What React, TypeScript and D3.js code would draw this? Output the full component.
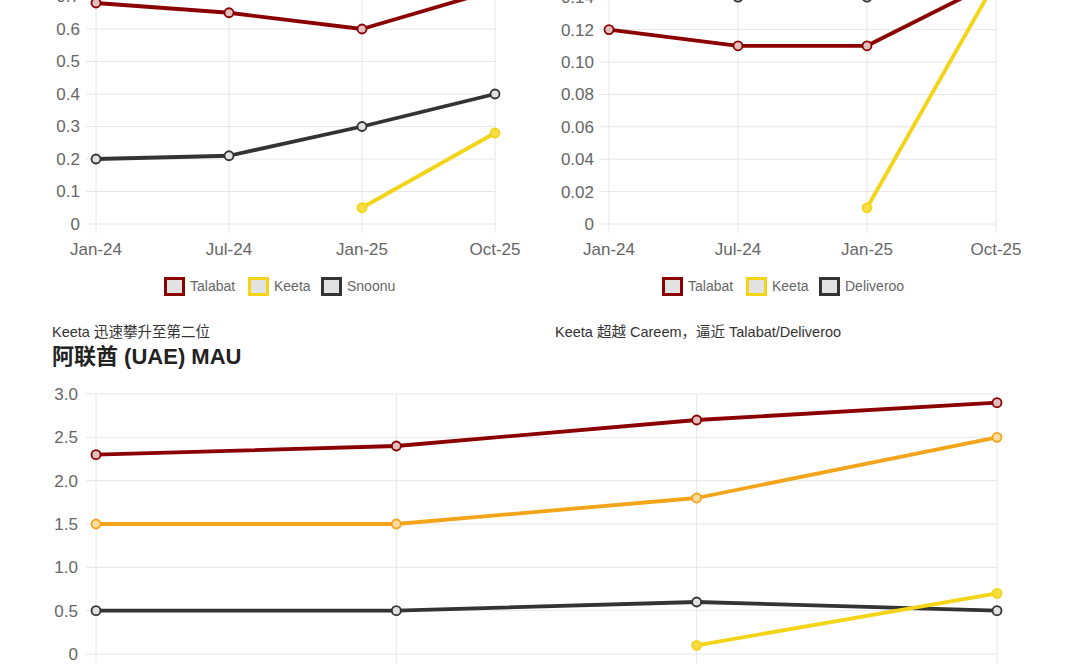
import React from "react";
import * as d3 from "d3";

const months = ["Jan-24", "Jul-24", "Jan-25", "Oct-25"];

// Chart 1 (top-left)
const c1Talabat = [0.68, 0.65, 0.6, 0.72];
const c1Keeta = [null, null, 0.05, 0.28];
const c1Snoonu = [0.2, 0.21, 0.3, 0.4];
const c1Ticks = [0, 0.1, 0.2, 0.3, 0.4, 0.5, 0.6, 0.7, 0.8];

// Chart 2 (top-right)
const c2Talabat = [0.12, 0.11, 0.11, 0.15];
const c2Keeta = [null, null, 0.01, 0.15];
const c2Deliveroo = [0.16, 0.14, 0.14, 0.16];
const c2Ticks = [0, 0.02, 0.04, 0.06, 0.08, 0.1, 0.12, 0.14, 0.16, 0.18];

// Chart 3 (bottom, UAE MAU)
const c3Talabat = [2.3, 2.4, 2.7, 2.9];
const c3Careem = [1.5, 1.5, 1.8, 2.5];
const c3Deliveroo = [0.5, 0.5, 0.6, 0.5];
const c3Keeta = [null, null, 0.1, 0.7];
const c3Ticks = [0, 0.5, 1.0, 1.5, 2.0, 2.5, 3.0];

const RED = "#8b0000";
const YELLOW = "#f3d417";
const DARK = "#333333";
const ORANGE = "#f2a51a";
const GRID = "#e6e6e6";
const TXT = "#666666";
const FONT = "'Liberation Sans', Arial, 'Noto Sans CJK SC', sans-serif";

type Series = { name: string; values: (number | null)[]; color: string; fillOpacity: number };

function Chart(props: {
  x0: number; x1: number; y0: number; y1: number; ymax: number;
  ticks: number[]; fmt: (v: number) => string; series: Series[];
  legend?: { x: number; y: number; items: { name: string; color: string; w: number }[] };
  labelRight: number;
}) {
  const { x0, x1, y0, y1, ymax, ticks, fmt, series, legend, labelRight } = props;
  const x = d3.scalePoint<string>().domain(months).range([x0, x1]);
  const y = d3.scaleLinear().domain([0, ymax]).range([y0, y1]);
  const top = y(ticks[ticks.length - 1]);
  return (
    <g>
      {ticks.map((t) => (
        <g key={"t" + t}>
          <line x1={x0 - 10} x2={x1} y1={y(t)} y2={y(t)} stroke={GRID} strokeWidth={1} />
          <text x={labelRight} y={y(t)} dy="0.35em" textAnchor="end" fontSize={17} fill={TXT} fontFamily={FONT}>
            {fmt(t)}
          </text>
        </g>
      ))}
      {months.map((m) => (
        <g key={"m" + m}>
          <line x1={x(m)!} x2={x(m)!} y1={top} y2={y0 + 9} stroke={GRID} strokeWidth={1} />
          <text x={x(m)!} y={y0 + 31} textAnchor="middle" fontSize={17} fill={TXT} fontFamily={FONT}>
            {m}
          </text>
        </g>
      ))}
      {series.map((s) => {
        const pts = s.values
          .map((v, i) => ({ v, m: months[i] }))
          .filter((p) => p.v !== null) as { v: number; m: string }[];
        const line = d3
          .line<{ v: number; m: string }>()
          .x((p) => x(p.m)!)
          .y((p) => y(p.v));
        return (
          <g key={s.name}>
            <path d={line(pts) || ""} fill="none" stroke={s.color} strokeWidth={3.8} strokeLinejoin="round" />
            {pts.map((p) => (
              <g key={p.m}>
                <circle cx={x(p.m)!} cy={y(p.v)} r={4.5} fill="#fff" />
                <circle cx={x(p.m)!} cy={y(p.v)} r={4.5} fill={s.color} fillOpacity={s.fillOpacity} stroke={s.color} strokeWidth={1.8} />
              </g>
            ))}
          </g>
        );
      })}
      {legend && (
        <g>
          {(() => {
            let cx = legend.x;
            return legend.items.map((it) => {
              const gx = cx;
              cx += 26 + it.w + 12;
              return (
                <g key={it.name}>
                  <rect x={gx + 1.5} y={legend.y - 7.5} width={18} height={16} fill="#e2e2e2" stroke={it.color} strokeWidth={3} />
                  <text x={gx + 26} y={legend.y} dy="0.35em" fontSize={14} fill={TXT} fontFamily={FONT}>
                    {it.name}
                  </text>
                </g>
              );
            });
          })()}
        </g>
      )}
    </g>
  );
}

const fmt1 = (v: number) => (v === 0 ? "0" : d3.format(".1f")(v));
const fmt2 = (v: number) => (v === 0 ? "0" : d3.format(".2f")(v));

export default function App() {
  return (
    <div style={{ position: "absolute", left: 0, top: 0, width: 1080, height: 669, overflow: "hidden", background: "#fff" }}>
      <svg width={1080} height={669} style={{ display: "block" }}>
        <rect width={1080} height={669} fill="#fff" />
        <Chart
          x0={96} x1={495} y0={224} y1={224 - 0.8 * 325} ymax={0.8}
          ticks={c1Ticks} fmt={fmt1} labelRight={80}
          series={[
            { name: "Snoonu", values: c1Snoonu, color: DARK, fillOpacity: 0.15 },
            { name: "Keeta", values: c1Keeta, color: YELLOW, fillOpacity: 0.8 },
            { name: "Talabat", values: c1Talabat, color: RED, fillOpacity: 0.25 },
          ]}
          legend={{
            x: 164, y: 286,
            items: [
              { name: "Talabat", color: RED, w: 46 },
              { name: "Keeta", color: YELLOW, w: 35 },
              { name: "Snoonu", color: DARK, w: 48 },
            ],
          }}
        />
        <Chart
          x0={609} x1={996} y0={224} y1={224 - 0.18 * 1620} ymax={0.18}
          ticks={c2Ticks} fmt={fmt2} labelRight={594}
          series={[
            { name: "Deliveroo", values: c2Deliveroo, color: DARK, fillOpacity: 0.15 },
            { name: "Keeta", values: c2Keeta, color: YELLOW, fillOpacity: 0.8 },
            { name: "Talabat", values: c2Talabat, color: RED, fillOpacity: 0.25 },
          ]}
          legend={{
            x: 662, y: 286,
            items: [
              { name: "Talabat", color: RED, w: 46 },
              { name: "Keeta", color: YELLOW, w: 35 },
              { name: "Deliveroo", color: DARK, w: 58 },
            ],
          }}
        />
        <text x={52} y={337} fontSize={14.5} fill="#333" fontFamily={FONT}>Keeta 迅速攀升至第二位</text>
        <text x={52} y={364} fontSize={22} fontWeight={600} fill="#222" fontFamily={FONT}>阿联酋 (UAE) MAU</text>
        <text x={555} y={337} fontSize={14.5} fill="#333" fontFamily={FONT}>Keeta 超越 Careem，逼近 Talabat/Deliveroo</text>
        <Chart
          x0={96} x1={997} y0={654} y1={394} ymax={3}
          ticks={c3Ticks} fmt={fmt1} labelRight={78}
          series={[
            { name: "Deliveroo", values: c3Deliveroo, color: DARK, fillOpacity: 0.15 },
            { name: "Careem", values: c3Careem, color: ORANGE, fillOpacity: 0.4 },
            { name: "Talabat", values: c3Talabat, color: RED, fillOpacity: 0.25 },
            { name: "Keeta", values: c3Keeta, color: YELLOW, fillOpacity: 0.8 },
          ]}
        />
      </svg>
    </div>
  );
}
